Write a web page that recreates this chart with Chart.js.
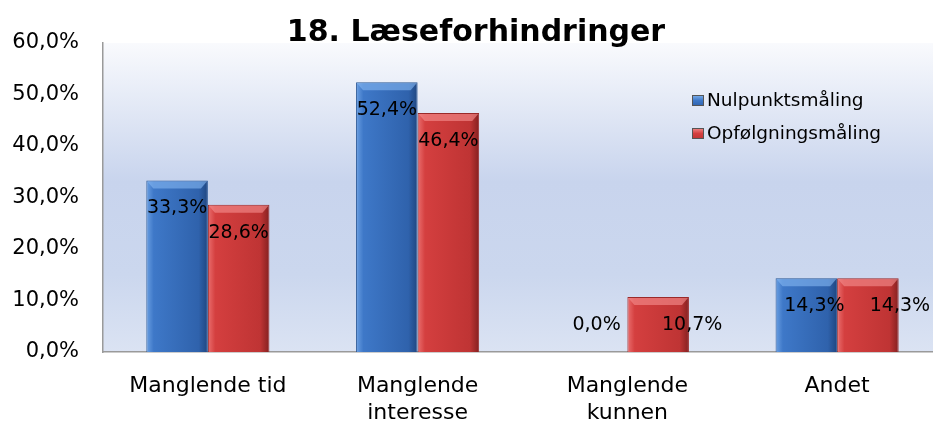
<!DOCTYPE html>
<html>
<head>
<meta charset="utf-8">
<script src="https://cdn.jsdelivr.net/npm/chart.js@4.4.0/dist/chart.umd.min.js"></script>
<style>
html,body{margin:0;padding:0;background:#fff;overflow:hidden;}
#wrap{width:933px;height:425px;position:relative;overflow:hidden;}
</style>
</head>
<body>
<div id="wrap"><canvas id="c" width="942" height="425"></canvas></div>
<script>
const titleText = "18. Læseforhindringer";
const categories = ["Manglende tid", ["Manglende", "interesse"], ["Manglende", "kunnen"], "Andet"];
const seriesNames = ["Nulpunktsmåling", "Opfølgningsmåling"];
const nulpunkt = [33.3, 52.4, 0.0, 14.3];
const opfoelgning = [28.6, 46.4, 10.7, 14.3];
const yTicks = [0, 10, 20, 30, 40, 50, 60];

const fmt = v => v.toFixed(1).replace('.', ',') + '%';

const palettes = [
  {light:'#6a9fe2', mid:'#3e78c8', dark:'#2f62ac', edge:'#1f4680', top:'#7fb2ee'},
  {light:'#ea6e6e', mid:'#d43f3f', dark:'#bf3434', edge:'#842020', top:'#f28a8a'}
];

const bgPlugin = {
  id: 'bg',
  beforeDraw(chart) {
    const {ctx, chartArea: a} = chart;
    const g = ctx.createLinearGradient(0, a.top, 0, a.bottom);
    g.addColorStop(0, '#f9fafd');
    g.addColorStop(0.45, '#c8d4ed');
    g.addColorStop(0.75, '#cbd7ee');
    g.addColorStop(1, '#dbe3f3');
    ctx.save();
    ctx.fillStyle = g;
    ctx.fillRect(a.left, a.top, a.right - a.left, a.bottom - a.top);
    ctx.restore();
  },
  beforeDatasetsDraw(chart) {
    const ctx = chart.ctx;
    chart.data.datasets.forEach((ds, di) => {
      const p = palettes[di];
      chart.getDatasetMeta(di).data.forEach(el => {
        const x0 = el.x - el.width / 2, x1 = el.x + el.width / 2;
        const g = ctx.createLinearGradient(x0, 0, x1, 0);
        g.addColorStop(0, p.light);
        g.addColorStop(0.12, p.mid);
        g.addColorStop(0.85, p.dark);
        g.addColorStop(1, p.edge);
        el.options.backgroundColor = g;
      });
    });
  },
  afterDatasetsDraw(chart) {
    const ctx = chart.ctx;
    chart.data.datasets.forEach((ds, di) => {
      const p = palettes[di];
      chart.getDatasetMeta(di).data.forEach(el => {
        if (el.base - el.y < 2) return;
        const x0 = el.x - el.width / 2, x1 = el.x + el.width / 2;
        const h = Math.min(8, (el.base - el.y) / 2);
        ctx.save();
        ctx.fillStyle = p.top;
        ctx.globalAlpha = 0.65;
        ctx.beginPath();
        ctx.moveTo(x0 + 1, el.y + 1);
        ctx.lineTo(x1 - 1, el.y + 1);
        ctx.lineTo(x1 - 7, el.y + h);
        ctx.lineTo(x0 + 7, el.y + h);
        ctx.closePath();
        ctx.fill();
        ctx.restore();
      });
    });
    const offX = chart.options.plugins.bg.labelOffsetX;
    ctx.save();
    ctx.font = '19px "DejaVu Sans"';
    ctx.fillStyle = '#000';
    ctx.textAlign = 'center';
    ctx.textBaseline = 'middle';
    chart.data.datasets.forEach((ds, di) => {
      chart.getDatasetMeta(di).data.forEach((el, i) => {
        const y = Math.min(el.y + 28, el.base - 27);
        ctx.fillText(fmt(ds.data[i]), el.x + offX[di][i], y);
      });
    });
    ctx.restore();
  },
  afterDraw(chart) {
    const ctx = chart.ctx;
    ctx.save();
    ctx.font = 'bold 30px "DejaVu Sans"';
    ctx.fillStyle = '#000';
    ctx.textAlign = 'center';
    ctx.textBaseline = 'alphabetic';
    ctx.fillText(titleText, 476, 41);
    const ys = [100, 133];
    ctx.font = '18.5px "DejaVu Sans"';
    ctx.textAlign = 'left';
    ctx.textBaseline = 'middle';
    chart.data.datasets.forEach((ds, di) => {
      const p = palettes[di];
      const bx = 692, by = ys[di] - 5;
      const g = ctx.createLinearGradient(0, by, 0, by + 11);
      g.addColorStop(0, p.top);
      g.addColorStop(0.5, p.mid);
      g.addColorStop(1, p.dark);
      ctx.fillStyle = g;
      ctx.fillRect(bx, by, 12, 11);
      ctx.strokeStyle = '#555';
      ctx.lineWidth = 1;
      ctx.strokeRect(bx + 0.5, by + 0.5, 11, 10);
      ctx.fillStyle = '#000';
      ctx.fillText(ds.label, 707, ys[di] + 1);
    });
    ctx.restore();
  }
};

new Chart(document.getElementById('c'), {
  type: 'bar',
  data: {
    labels: categories,
    datasets: [
      {label: seriesNames[0], data: nulpunkt, backgroundColor: () => '#3e78c8', borderColor: '#2a5796', borderWidth: 1, borderSkipped: 'bottom'},
      {label: seriesNames[1], data: opfoelgning, backgroundColor: () => '#d43f3f', borderColor: '#9a2a2a', borderWidth: 1, borderSkipped: 'bottom'}
    ]
  },
  options: {
    responsive: false,
    animation: false,
    devicePixelRatio: 1,
    layout: {padding: {top: 43, left: 0, right: 0, bottom: 0}},
    datasets: {bar: {categoryPercentage: 0.587, barPercentage: 1.0}},
    plugins: {
      legend: {display: false},
      title: {display: false},
      tooltip: {enabled: false},
      bg: {labelOffsetX: [[0, 0, 0, 8], [0, 0, 34, 32]]}
    },
    scales: {
      x: {
        grid: {display: false, drawTicks: false, tickLength: 0},
        border: {display: true, color: '#9a9a9a', width: 1.5},
        ticks: {color: '#000', font: {family: '"DejaVu Sans"', size: 22, lineHeight: 1.22}, padding: 21, maxRotation: 0, autoSkip: false},
        afterFit(s) { s.height = 73; }
      },
      y: {
        min: 0, max: 60,
        grid: {display: false, drawTicks: false, tickLength: 0},
        border: {display: true, color: '#9a9a9a', width: 1.5},
        afterBuildTicks(s) { s.ticks = yTicks.map(v => ({value: v})); },
        ticks: {color: '#000', font: {family: '"DejaVu Sans"', size: 21}, padding: 24, callback: v => fmt(v)},
        afterFit(s) { s.width = 103; }
      }
    }
  },
  plugins: [bgPlugin]
});
</script>
</body>
</html>
